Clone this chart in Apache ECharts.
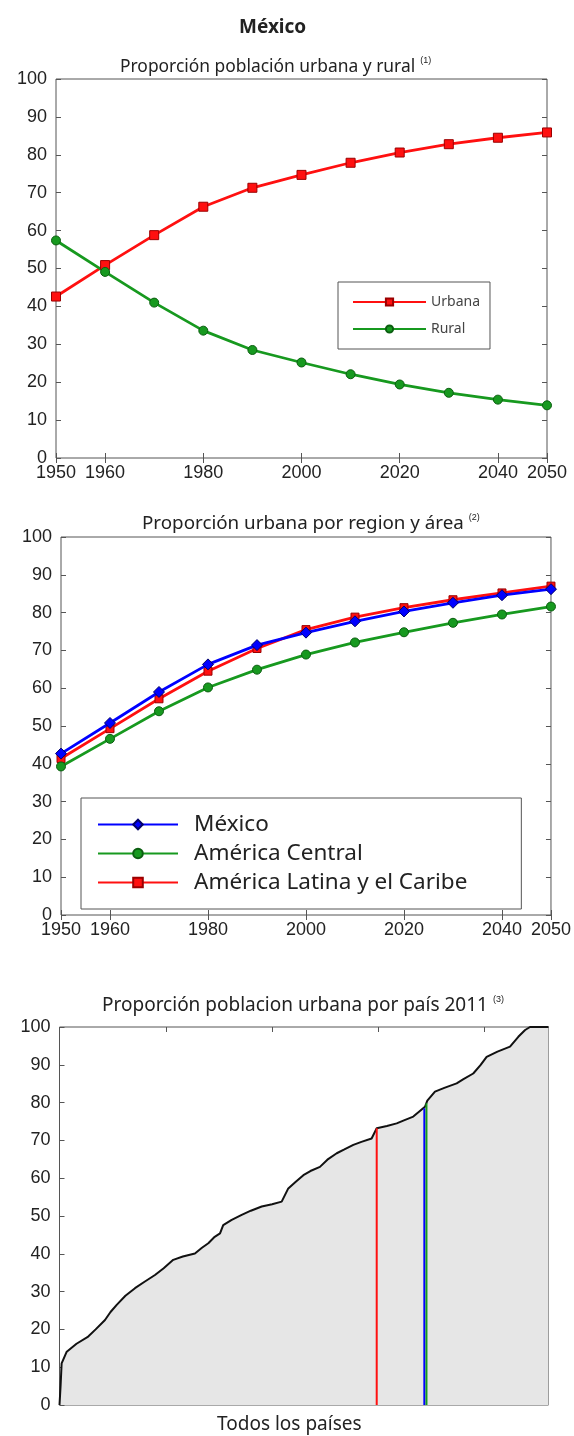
<!DOCTYPE html>
<html><head><meta charset="utf-8">
<script src="https://cdn.jsdelivr.net/npm/echarts@6/dist/echarts.min.js"></script>
<style>html,body{margin:0;padding:0;background:#fff}#c{width:574px;height:1436px}</style>
</head><body><div id="c"></div>
<script>
// ---- data ----
const years = [1950, 1960, 1970, 1980, 1990, 2000, 2010, 2020, 2030, 2040, 2050];
const urbana = [42.6, 50.9, 58.8, 66.3, 71.3, 74.7, 77.9, 80.6, 82.8, 84.5, 85.9];
const rural  = [57.4, 49.1, 41.0, 33.6, 28.5, 25.2, 22.1, 19.4, 17.2, 15.4, 13.9];
const mexico = [42.7, 50.8, 59.0, 66.3, 71.4, 74.7, 77.7, 80.3, 82.6, 84.6, 86.2];
const americaCentral = [39.3, 46.6, 53.9, 60.2, 64.9, 68.9, 72.1, 74.8, 77.3, 79.5, 81.6];
const americaLatina  = [41.4, 49.3, 57.2, 64.5, 70.5, 75.5, 78.8, 81.3, 83.4, 85.2, 87.0];
const yearTicks = [1950, 1960, 1980, 2000, 2020, 2040, 2050];
// countries sorted by urban share (rank, % urban), 2011
const countryRank = [0, 0.5, 1, 3.4, 8, 13.5, 17, 21.4, 24, 26.9, 31, 35.5, 40, 44.9, 49, 53.5, 58, 63.7, 67, 70, 73, 75.5, 77, 81, 85.7, 90, 95.1, 100, 104.5, 107.6, 111, 114.7, 118, 122.5, 126, 130.4, 134, 138.2, 142, 146.8, 149.2, 154, 158.6, 162, 166.4, 171.9, 173, 176.6, 181, 186.8, 190, 194.6, 198, 200.9, 206, 211.9, 215.8, 219, 221.3, 230];
const countryUrban = [0, 5, 11, 14.1, 16.2, 18.1, 20.0, 22.5, 24.6, 26.5, 28.9, 30.9, 32.6, 34.4, 36.2, 38.4, 39.3, 40.1, 41.6, 42.8, 44.5, 45.4, 47.6, 49.0, 50.3, 51.4, 52.5, 53.1, 53.8, 57.3, 59.0, 60.8, 61.9, 63.0, 64.9, 66.6, 67.6, 68.8, 69.6, 70.5, 73.2, 73.8, 74.5, 75.3, 76.3, 78.9, 80.5, 82.9, 83.9, 85.1, 86.2, 87.7, 89.9, 92.1, 93.5, 94.8, 97.4, 99.2, 100, 100];
const markerNames  = ['América Latina y el Caribe', 'México', 'América Central'];
const markerRanks  = [149.2, 171.6, 172.6];
const markerValues = [73.2, 78.5, 79.8];

// ---- styles ----
const RED = '#ff1010', GREEN = '#17991f', BLUE = '#0000ff';
const tickFont = {fontSize: 18, color: '#222', fontFamily: 'Liberation Sans'};
const titleFont = 'Noto Sans';
const pair = (xs, ys) => xs.map((x, i) => [x, ys[i]]);

const grids = [
  {left: 56, top: 79, width: 491, height: 379},
  {left: 61, top: 537, width: 492, height: 378},
  {left: 59.5, top: 1027, width: 489, height: 378}
];
grids.forEach(g => { g.show = true; g.borderColor = '#555'; g.borderWidth = 1; g.backgroundColor = 'transparent'; });

const xAxes = [], yAxes = [];
function yearAxes(gi) {
  xAxes.push({type: 'value', gridIndex: gi, min: 1950, max: 2050, position: 'bottom',
    axisLine: {show: false}, splitLine: {show: false},
    axisTick: {show: true, inside: true, length: 5, lineStyle: {color: '#555'}, customValues: yearTicks},
    axisLabel: Object.assign({margin: 6, customValues: yearTicks, formatter: v => String(v)}, tickFont)});
  xAxes.push({type: 'value', gridIndex: gi, min: 1950, max: 2050, position: 'top',
    axisLine: {show: false}, splitLine: {show: false},
    axisTick: {show: true, inside: true, length: 5, lineStyle: {color: '#555'}, customValues: yearTicks},
    axisLabel: {show: false}});
}
function pctAxes(gi, right) {
  yAxes.push({type: 'value', gridIndex: gi, min: 0, max: 100, interval: 10, position: 'left',
    axisLine: {show: false}, splitLine: {show: false},
    axisTick: {show: true, inside: true, length: 5, lineStyle: {color: '#555'}},
    axisLabel: Object.assign({margin: 9}, tickFont)});
  if (right) yAxes.push({type: 'value', gridIndex: gi, min: 0, max: 100, interval: 10, position: 'right',
    axisLine: {show: false}, splitLine: {show: false},
    axisTick: {show: true, inside: true, length: 5, lineStyle: {color: '#555'}},
    axisLabel: {show: false}});
}
yearAxes(0); pctAxes(0, true);   // x 0,1  y 0,1
yearAxes(1); pctAxes(1, true);   // x 2,3  y 2,3
xAxes.push({type: 'value', gridIndex: 2, min: 0, max: 230, position: 'bottom',
  axisLine: {show: false}, splitLine: {show: false}, axisTick: {show: false}, axisLabel: {show: false}}); // x 4
xAxes.push({type: 'value', gridIndex: 2, min: 0, max: 230, interval: 50, position: 'top',
  axisLine: {show: false}, splitLine: {show: false},
  axisTick: {show: true, inside: true, length: 5, lineStyle: {color: '#555'}}, axisLabel: {show: false}}); // x 5
pctAxes(2, false); // y 4

function lineSeries(name, data, xi, yi, color, symbol, size, border, z) {
  return {name, type: 'line', xAxisIndex: xi, yAxisIndex: yi, data: pair(years, data),
    symbol, symbolSize: size, z, smooth: false,
    lineStyle: {color, width: 2.8},
    itemStyle: {color, borderColor: border, borderWidth: 1}};
}

const series = [
  lineSeries('Urbana', urbana, 0, 0, RED, 'rect', 9, '#9a0000', 3),
  lineSeries('Rural', rural, 0, 0, GREEN, 'circle', 9, '#0b5e10', 3),
  lineSeries('América Latina y el Caribe', americaLatina, 2, 2, RED, 'rect', 8, '#9a0000', 3),
  lineSeries('América Central', americaCentral, 2, 2, GREEN, 'circle', 9, '#0b5e10', 4),
  lineSeries('México', mexico, 2, 2, BLUE, 'diamond', 11, '#00006a', 5),
  {name: 'países', type: 'line', xAxisIndex: 4, yAxisIndex: 4, data: pair(countryRank, countryUrban),
    symbol: 'none', lineStyle: {color: '#111', width: 2}, areaStyle: {color: '#e6e6e6', opacity: 1}, z: 2}
];
const markerColors = [RED, BLUE, GREEN];
markerRanks.forEach((r, i) => {
  series.push({name: 'm_' + markerNames[i], type: 'line', xAxisIndex: 4, yAxisIndex: 4,
    data: [[r, 0], [r, markerValues[i]]], symbol: 'none', z: 4,
    lineStyle: {color: markerColors[i], width: 2}});
});

const subRich = (size) => ({
  a: {fontSize: size, fontFamily: titleFont, fontWeight: 'normal', color: '#222', lineHeight: 22},
  s: {fontSize: 9, fontFamily: 'Liberation Sans', fontWeight: 'normal', color: '#222', verticalAlign: 'top', padding: [0, 0, 0, 5]}
});

const option = {
  backgroundColor: '#fff',
  animation: false,
  title: [
    {text: 'México', left: 234, top: 13, textStyle: {fontSize: 19, fontWeight: 'bold', fontFamily: titleFont, color: '#222'}},
    {text: '{a|Proporción población urbana y rural}{s|(1)}', left: 115, top: 51, textStyle: {fontWeight: 'normal', rich: subRich(17.4)}},
    {text: '{a|Proporción urbana por region y área}{s|(2)}', left: 137, top: 508, textStyle: {fontWeight: 'normal', rich: subRich(18.8)}},
    {text: '{a|Proporción poblacion urbana por país 2011}{s|(3)}', left: 97, top: 990, textStyle: {fontWeight: 'normal', rich: subRich(19)}},
    {text: 'Todos los países', left: 212, top: 1410, textStyle: {fontSize: 19, fontWeight: 'normal', fontFamily: titleFont, color: '#222'}}
  ],
  grid: grids,
  xAxis: xAxes,
  yAxis: yAxes,
  legend: [
    {data: ['Urbana', 'Rural'], orient: 'vertical', left: 338, top: 282,
      itemWidth: 73, itemHeight: 9, itemGap: 13, padding: [13, 10, 13, 14],
      backgroundColor: '#fff', borderColor: '#555', borderWidth: 1,
      textStyle: {fontSize: 14, lineHeight: 14, color: '#444', fontFamily: titleFont}},
    {data: ['México', 'América Central', 'América Latina y el Caribe'], orient: 'vertical', left: 81, top: 798,
      itemWidth: 80, itemHeight: 12, itemGap: 6, padding: [15, 54, 15, 16],
      backgroundColor: '#fff', borderColor: '#555', borderWidth: 1,
      textStyle: {fontSize: 22.5, lineHeight: 22, color: '#222', fontFamily: titleFont, padding: [0, 0, 0, 11]}}
  ],
  series
};
const chart = echarts.init(document.getElementById('c'), null, {renderer: 'canvas'});
chart.setOption(option);
</script></body></html>
